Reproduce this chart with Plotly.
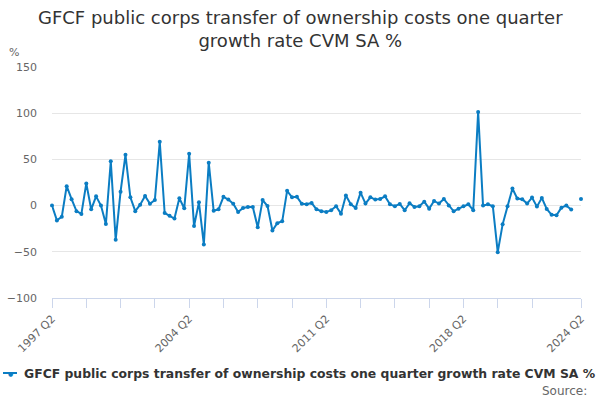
##########==========##########==========##########==========##########==========
## INITIALIZE

import plotly.graph_objects as go

## data, one value per quarter from 1997 Q2 to 2024 Q2
first_year, first_quarter, n_quarters = 1997, 2, 109
quarters = list()
for iter_q in range(n_quarters):
    q_now = first_quarter - 1 + iter_q
    quarters.append('{} Q{}'.format(first_year + q_now // 4, q_now % 4 + 1))

growth = [
    0, -16, -12, 21, 7, -6, -9, 24, -4, 10,
    0, -20, 48, -37, 15, 55, 9, -6, 1, 10.5,
    2, 6, 69, -8, -11, -14, 8, -3, 56, -22,
    3.5, -42, 46.5, -5.5, -4, 9.5, 6.5, 2, -7, -2.5,
    -1.5, -1.5, -23.5, 6, -0.5, -27, -19, -17, 16, 9,
    9.5, 2, 1.4, 2.9, -4, -6, -7, -5, -0.7, -8.7,
    11, 1.4, -2.5, 14, 2.2, 9, 6.5, 7.2, 10, 1.4,
    -0.7, 1.8, -5, 2.5, -1.4, -0.7, 4.3, -3.3, 5, 2.2,
    7.2, 0, -6.2, -3.3, -0.7, 1.4, -5, 101.4, 0, 1.4,
    -0.7, -50.4, -20.3, -0.7, 18.5, 7.6, 6.9, 2.2, 8.7, -1.1,
    8.3, -3.6, -10, -10.5, -2.2, 0, -4.3, None, 7.2,
    ]

series_name = 'GFCF public corps transfer of ownership costs one quarter growth rate CVM SA %'
chart_title = 'GFCF public corps transfer of ownership costs one quarter<br>growth rate CVM SA %'
labelled_quarters = ['1997 Q2', '2004 Q2', '2011 Q2', '2018 Q2', '2024 Q2']
y_ticks = [-100, -50, 0, 50, 100, 150]

params = dict(
    width = 600, height = 400,
    margin = dict(l = 52, r = 19, t = 67, b = 102),
    font = 'DejaVu Sans',
    colors = dict(line = '#0b7dc3', title = '#333333', label = '#666666',
                  grid = '#e6e6e6', axis = '#ccd6eb'),
    )


##########==========##########==========##########==========##########==========
## COMPONENT FUNCTIONS

def to_paper(px, py):
    """ pixel position in the page -> paper coordinates of the plot area """
    m = params['margin']
    w = params['width'] - m['l'] - m['r']
    h = params['height'] - m['t'] - m['b']
    return (px - m['l']) / w, (params['height'] - m['b'] - py) / h


def make_figure():
    tick_vals = [quarters[i] for i in range(0, n_quarters - 7, 7)] + [quarters[-1]]
    tick_text = [q if q in labelled_quarters else '' for q in tick_vals]
    c = params['colors']
    fig = go.Figure()
    fig.update_layout(
        width = params['width'], height = params['height'],
        margin = params['margin'],
        plot_bgcolor = 'white', paper_bgcolor = 'white',
        showlegend = False,
        font = dict(family = params['font'], color = c['label'], size = 11),
        xaxis = dict(
            type = 'category', range = [0, n_quarters - 1], automargin = False,
            tickmode = 'array', tickvals = tick_vals, ticktext = tick_text,
            tickangle = -45, ticks = 'outside', ticklen = 9, tickcolor = c['axis'],
            showline = True, linecolor = c['axis'], linewidth = 1,
            showgrid = False, tickfont = dict(size = 11, color = c['label'])),
        yaxis = dict(
            range = [-100, 150], tickvals = y_ticks, showgrid = True, automargin = False,
            gridcolor = c['grid'], zeroline = False, showline = False,
            ticklabelstandoff = 14, tickfont = dict(size = 11, color = c['label'])),
        )
    return fig


def draw_series(fig):
    c = params['colors']
    fig.add_trace(go.Scatter(
        x = quarters, y = growth, name = series_name,
        mode = 'lines+markers', connectgaps = False, cliponaxis = False,
        line = dict(color = c['line'], width = 2),
        marker = dict(color = c['line'], size = 4),
        ))
    return fig


def add_text(fig, px, py, text, size, color, xanchor = 'center'):
    """ text placed by its page pixel position, centred vertically """
    x, y = to_paper(px, py)
    fig.add_annotation(x = x, y = y, xref = 'paper', yref = 'paper', text = text,
                       showarrow = False, xanchor = xanchor, yanchor = 'middle',
                       font = dict(size = size, color = color))
    return fig


def add_labels(fig):
    c = params['colors']
    ## title as an annotation, plotly's own title anchors two lines badly
    fig = add_text(fig, 300, 29, chart_title, 18, c['title'])
    ## unit label above the y axis
    fig = add_text(fig, 14, 52, '%', 11, c['label'])
    ## legend drawn by hand, the entry is wider than plotly's own legend allows
    lx0, ly = to_paper(3, 373)
    lx1, _ = to_paper(17, 373)
    fig.add_shape(type = 'line', xref = 'paper', yref = 'paper', x0 = lx0, x1 = lx1,
                  y0 = ly, y1 = ly, line = dict(color = c['line'], width = 2))
    fig = add_text(fig, 10, 373, '●', 6, c['line'])
    fig = add_text(fig, 22, 373, '<b>' + series_name + '</b>', 12.4, c['title'], 'left')
    fig = add_text(fig, 589, 391, 'Source:', 12, c['label'], 'right')
    return fig


##########==========##########==========##########==========##########==========
## TOP-LEVEL

if __name__ == '__main__':
    fig = make_figure()
    fig = draw_series(fig)
    fig = add_labels(fig)
    ## the page body keeps its default 8px margin otherwise, which pushes the chart off the window
    fig.write_html('out.html', config = dict(displayModeBar = False),
                   post_script = "document.body.style.margin = '0';")
